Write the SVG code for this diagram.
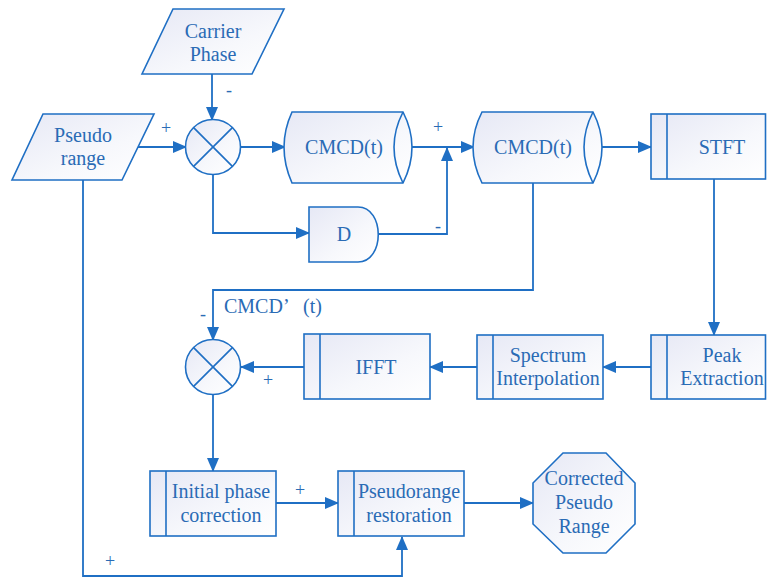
<svg xmlns="http://www.w3.org/2000/svg" width="767" height="578" viewBox="0 0 767 578">
  <defs>
    <linearGradient id="fillGrad" x1="0" y1="0" x2="1" y2="1">
      <stop offset="0" stop-color="#e6e8f5"/>
      <stop offset="0.6" stop-color="#f7f8fc"/>
      <stop offset="1" stop-color="#ffffff"/>
    </linearGradient>
    <marker id="arrow" markerUnits="userSpaceOnUse" markerWidth="14" markerHeight="12" refX="13" refY="6" orient="auto">
      <path d="M0,0 L14,6 L0,12 Z" fill="#1f6fc4"/>
    </marker>
    <style>
      .shape { fill: url(#fillGrad); stroke: #1f6fc4; stroke-width: 1.6; }
      .line { fill: none; stroke: #1f6fc4; stroke-width: 1.6; }
      .conn { fill: none; stroke: #1f6fc4; stroke-width: 1.8; marker-end: url(#arrow); }
      .lbl { font-family: "Liberation Serif", "Times New Roman", serif; font-size: 20px; fill: #2a6bb5; text-anchor: middle; }
      .sign { font-family: "Liberation Serif", "Times New Roman", serif; font-size: 18px; fill: #2a6bb5; text-anchor: middle; }
    </style>
  </defs>

  <!-- connectors -->
  <g id="connectors">
    <path class="conn" d="M212,74 V120"/>
    <path class="conn" d="M138,147 H186"/>
    <path class="conn" d="M241,147 H285"/>
    <path class="conn" d="M213,174 V233 H309"/>
    <path class="conn" d="M378,234 H447 V148"/>
    <path class="conn" d="M412,147 H474"/>
    <path class="conn" d="M602,147 H651"/>
    <path class="conn" d="M714,179 V335"/>
    <path class="conn" d="M651,367 H603"/>
    <path class="conn" d="M477,367 H430"/>
    <path class="conn" d="M304,367 H241"/>
    <path class="conn" d="M533,183 V290 H213 V340"/>
    <path class="conn" d="M213,395 V471"/>
    <path class="conn" d="M276,503 H338"/>
    <path class="conn" d="M464,503 H533"/>
    <path class="conn" d="M83,180 V576 H402 V537"/>
    <text class="sign" x="229" y="96">-</text>
    <text class="sign" x="166" y="134">+</text>
    <text class="sign" x="438" y="133">+</text>
    <text class="sign" x="438" y="232">-</text>
    <text class="sign" x="203" y="320">-</text>
    <text class="sign" x="268" y="386">+</text>
    <text class="sign" x="300" y="496">+</text>
    <text class="sign" x="110" y="567">+</text>
    <text class="lbl" style="text-anchor:start" x="224" y="313">CMCD’<tspan x="303">(t)</tspan></text>
  </g>

  <!-- input: carrier phase -->
  <g id="carrier-phase">
    <polygon class="shape" points="173,9 284,9 252,74 142,74"/>
    <text class="lbl" x="213" y="38">Carrier</text>
    <text class="lbl" x="213" y="61">Phase</text>
  </g>

  <!-- input: pseudo range -->
  <g id="pseudo-range">
    <polygon class="shape" points="43,114 154,114 122,180 12,180"/>
    <text class="lbl" x="83" y="142">Pseudo</text>
    <text class="lbl" x="83" y="165">range</text>
  </g>

  <!-- first summing junction -->
  <g id="sum1">
    <circle class="shape" cx="213" cy="147" r="27.5"/>
    <path class="line" d="M193.6,127.6 L232.4,166.4 M232.4,127.6 L193.6,166.4"/>
  </g>

  <!-- first CMCD store -->
  <g id="cmcd1">
    <path class="shape" d="M292,112 H403 Q421,147 403,183 H292 Q276,147 292,112 Z"/>
    <path class="line" d="M403,112 Q385,147 403,183"/>
    <text class="lbl" x="344" y="154">CMCD(t)</text>
  </g>

  <!-- delay -->
  <g id="delay">
    <path class="shape" d="M309,207 H358 C385,207 385,262 358,262 H309 Z"/>
    <text class="lbl" x="344" y="241">D</text>
  </g>

  <!-- second CMCD store -->
  <g id="cmcd2">
    <path class="shape" d="M482,112 H593 Q611,147 593,183 H482 Q464,147 482,112 Z"/>
    <path class="line" d="M593,112 Q575,147 593,183"/>
    <text class="lbl" x="533" y="154">CMCD(t)</text>
  </g>

  <!-- STFT -->
  <g id="stft">
    <rect class="shape" x="651" y="114" width="114.5" height="65"/>
    <path class="line" d="M667,114 V179"/>
    <text class="lbl" x="722" y="154">STFT</text>
  </g>

  <!-- peak extraction -->
  <g id="peak-extraction">
    <rect class="shape" x="651" y="335" width="114.5" height="64"/>
    <path class="line" d="M667,335 V399"/>
    <text class="lbl" x="722" y="362">Peak</text>
    <text class="lbl" x="722" y="385">Extraction</text>
  </g>

  <!-- spectrum interpolation -->
  <g id="spectrum-interpolation">
    <rect class="shape" x="477" y="335" width="126" height="64"/>
    <path class="line" d="M493,335 V399"/>
    <text class="lbl" x="548" y="362">Spectrum</text>
    <text class="lbl" x="548" y="385">Interpolation</text>
  </g>

  <!-- IFFT -->
  <g id="ifft">
    <rect class="shape" x="304" y="334" width="126" height="65"/>
    <path class="line" d="M320,334 V399"/>
    <text class="lbl" x="376" y="374">IFFT</text>
  </g>

  <!-- second summing junction -->
  <g id="sum2">
    <circle class="shape" cx="213" cy="367" r="27.5"/>
    <path class="line" d="M193.6,347.6 L232.4,386.4 M232.4,347.6 L193.6,386.4"/>
  </g>

  <!-- initial phase correction -->
  <g id="initial-phase-correction">
    <rect class="shape" x="150" y="471" width="126" height="65"/>
    <path class="line" d="M166,471 V536"/>
    <text class="lbl" x="221" y="498">Initial phase</text>
    <text class="lbl" x="221" y="522">correction</text>
  </g>

  <!-- pseudorange restoration -->
  <g id="pseudorange-restoration">
    <rect class="shape" x="338" y="471" width="126" height="65"/>
    <path class="line" d="M354,471 V536"/>
    <text class="lbl" x="409" y="498">Pseudorange</text>
    <text class="lbl" x="409" y="522">restoration</text>
  </g>

  <!-- output -->
  <g id="corrected-pseudo-range">
    <polygon class="shape" points="563,453 606,453 635,483 635,524 606,553 563,553 533,524 533,483"/>
    <text class="lbl" x="584" y="485">Corrected</text>
    <text class="lbl" x="584" y="509">Pseudo</text>
    <text class="lbl" x="584" y="533">Range</text>
  </g>
</svg>
